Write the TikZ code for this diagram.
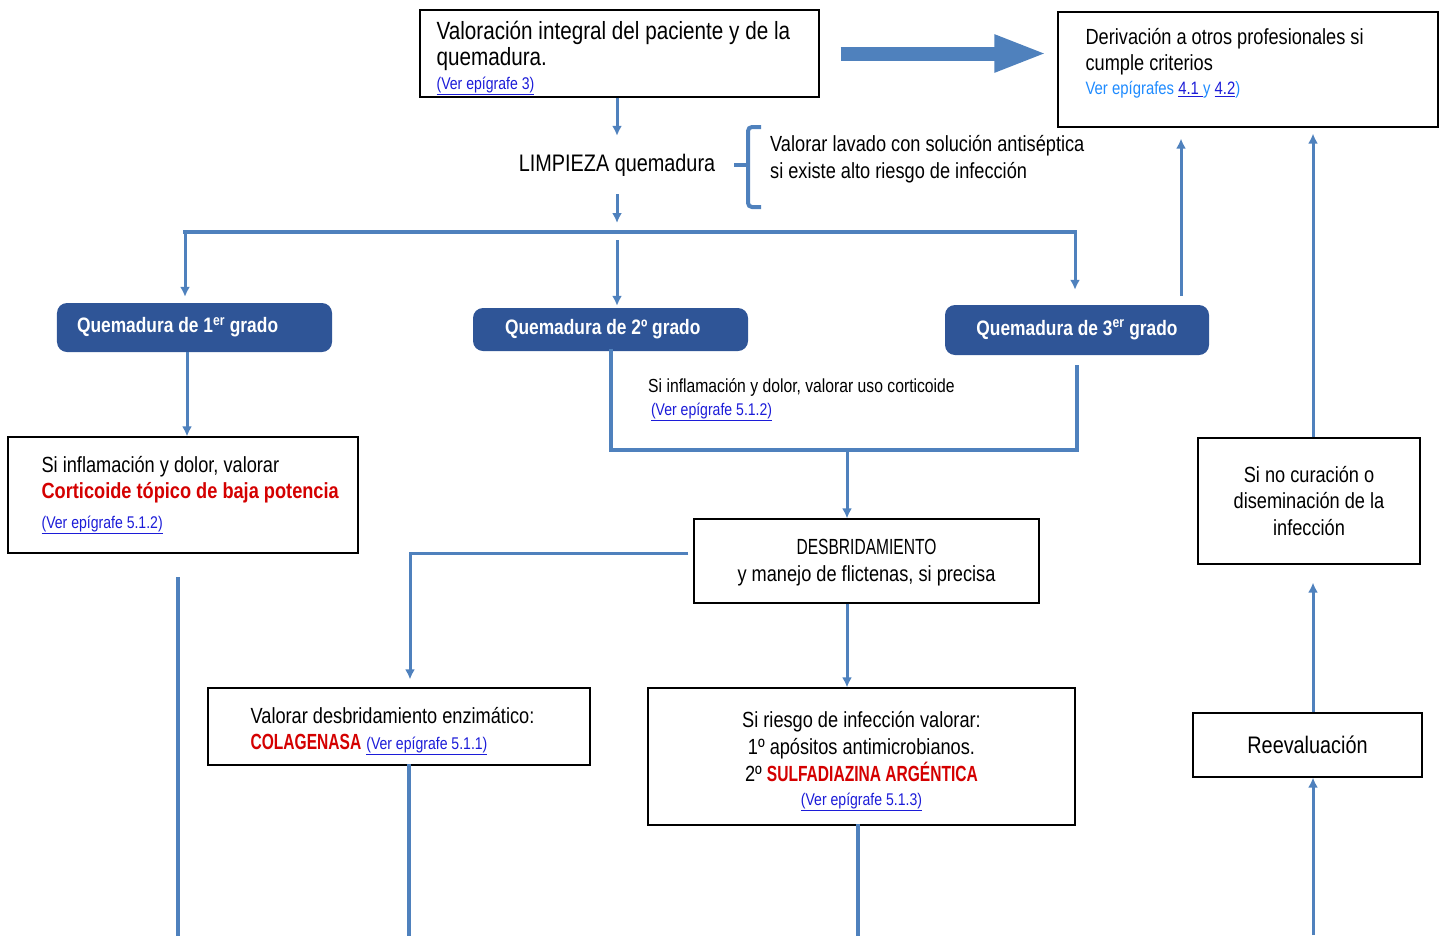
\documentclass[tikz,border=0pt]{standalone}
\usepackage{fontspec}
\setmainfont{Liberation Sans}[FakeStretch=0.83]
\newfontfamily\angosta{Liberation Sans}[FakeStretch=0.71]
\usetikzlibrary{positioning,calc,arrows.meta}

\definecolor{azulflecha}{HTML}{4F81BD}
\definecolor{azulgrado}{HTML}{2F5597}
\definecolor{rojo}{HTML}{D40000}
\definecolor{azulenlace}{HTML}{1C1CD8}
\definecolor{azulclaro}{HTML}{1F8BFF}

\newcommand{\tam}[2]{\fontsize{#1}{#2}\selectfont}
\newcommand{\epigrafe}[1]{\textcolor{azulenlace}{\underline{#1}}}
\newcommand{\resalta}[1]{\textcolor{rojo}{\bfseries #1}}

\tikzset{caja/.style={draw=black, line width=1.2bp, rectangle, inner sep=0pt}}
\tikzset{texto/.style={inner sep=0pt, align=left}}
\tikzset{grado/.style={rectangle, rounded corners=10bp, fill=azulgrado, text=white, inner sep=0pt, font=\bfseries\tam{21}{25}}}
\tikzset{flujo/.style={draw=azulflecha, line width=3bp, -{Latex[length=10bp,width=10bp]}}}
\tikzset{barra/.style={draw=azulflecha, line width=4bp, line cap=rect}}
\tikzset{gruesa/.style={draw=azulflecha, line width=14bp, -{Triangle[length=53bp,width=34bp]}}}

\begin{document}
\begin{tikzpicture}[x=1bp,y=-1bp]
  \useasboundingbox (0,0) rectangle (1445,935);

  % inicio
  \node[caja, minimum width=399bp, minimum height=87bp] (valoracion) at (619.5,53.5) {};
  \node[texto, font=\tam{25}{26}, below right=12bp and 17bp of valoracion.north west] (txtvaloracion)
    {Valoración integral del paciente y de la\\quemadura.\\[-2bp]{\tam{17}{20}\epigrafe{(Ver epígrafe 3)}}};
  \node[caja, minimum width=380bp, minimum height=115bp] (derivacion) at (1248,69.5) {};
  \node[texto, font=\tam{22}{26}, below right=17bp and 28bp of derivacion.north west] (txtderivacion)
    {Derivación a otros profesionales si\\cumple criterios\\[-2bp]{\tam{18}{20}\color{azulclaro}Ver epígrafes \epigrafe{4.1 }y \epigrafe{4.2})}};
  \draw[gruesa] ($(valoracion.east)+(21,0)$) -- ($(derivacion.west |- valoracion.east)+(-10,0)$);

  % limpieza
  \node[font=\tam{24}{28}, minimum height=58bp, inner sep=0pt] (limpieza) at (617,165) {LIMPIEZA quemadura};
  \draw[flujo] (valoracion.south -| limpieza) -- (limpieza.north);
  \node[texto, font=\tam{22}{27}, anchor=west] (lavado) at (770,159)
    {Valorar lavado con solución antiséptica\\si existe alto riesgo de infección};
  \draw[azulflecha, line width=4bp, rounded corners=4bp]
    ($(lavado.west)+(-9,-32)$) -| ($(lavado.west)+(-22,48)$) -- ++(13,0);
  \draw[azulflecha, line width=4bp] ($(lavado.west)+(-22,6)$) -- ++(-14,0);

  % reparto por grados
  \coordinate (reparto) at (617,232);
  \coordinate (ramaI) at (185,232);
  \coordinate (ramaD) at (1075,232);
  \draw[flujo, shorten >=9bp] (limpieza.south) -- (reparto);
  \draw[barra] (ramaI) -- (ramaD);

  \node[grado, minimum width=275bp, minimum height=49bp, text width=235bp, align=flush left] (grado1) at (194.5,327.5) {Quemadura de 1\textsuperscript{er} grado};
  \node[grado, minimum width=275bp, minimum height=43bp, text width=211bp, align=flush left] (grado2) at (610.5,329.5) {Quemadura de 2º grado};
  \node[grado, minimum width=264bp, minimum height=50bp, align=center] (grado3) at (1077,330) {Quemadura de 3\textsuperscript{er} grado};
  \draw[flujo, shorten >=6bp] (ramaI) -- (ramaI |- grado1.north);
  \draw[flujo, shorten <=8bp, shorten >=2bp] (reparto) -- (reparto |- grado2.north);
  \draw[flujo, shorten >=15bp] (ramaD) -- (ramaD |- grado3.north);

  % primer grado
  \node[caja, minimum width=350bp, minimum height=116bp] (corticoide) at (183,495) {};
  \node[texto, font=\tam{22}{26}, below right=20bp and 34bp of corticoide.north west] (txtcorticoide)
    {Si inflamación y dolor, valorar\\\resalta{Corticoide tópico de baja potencia}\\[4bp]{\tam{17}{20}\epigrafe{(Ver epígrafe 5.1.2)}}};
  \draw[flujo] ($(corticoide.north |- grado1.south)+(4,0)$) -- ($(corticoide.north)+(4,0)$);
  \coordinate (finI) at (178,935);
  \draw[barra] ($(corticoide.south -| finI)+(0,25)$) -- (finI);

  % segundo y tercer grado
  \coordinate (union) at (847,450);
  \draw[barra] (grado2.south) |- (union) -| ($(grado3.south)+(0,12)$);
  \node[texto, font=\tam{19}{23}, anchor=north west] (usocorticoide) at (648,378)
    {Si inflamación y dolor, valorar uso corticoide\\{\tam{17}{20}\,\epigrafe{(Ver epígrafe 5.1.2)}}};
  \node[caja, minimum width=345bp, minimum height=84bp] (desbrid) at (866.5,561) {};
  \node[texto, align=center, font=\tam{22}{27}] (txtdesbrid) at ($(desbrid.center)+(0,2)$)
    {{\angosta DESBRIDAMIENTO}\\y manejo de flictenas, si precisa};
  \draw[flujo] (union) -- (union |- desbrid.north);

  \node[caja, minimum width=382bp, minimum height=77bp] (colagenasa) at (399,726.5) {};
  \node[texto, font=\tam{22}{26}, below right=20bp and 43bp of colagenasa.north west] (txtcolagenasa)
    {Valorar desbridamiento enzimático:\\\resalta{\angosta COLAGENASA} {\tam{17}{20}\epigrafe{(Ver epígrafe 5.1.1)}}};
  \draw[flujo, shorten >=8bp] ($(desbrid.west)+(-5,-8)$) -| ($(colagenasa.north)+(11,0)$);
  \coordinate (finC) at (409,935);
  \draw[barra] (colagenasa.south -| finC) -- (finC);

  \node[caja, minimum width=427bp, minimum height=137bp] (riesgo) at (861.5,756.5) {};
  \node[texto, align=center, font=\tam{22}{27}] (txtriesgo) at ($(riesgo.center)+(0,5)$)
    {Si riesgo de infección valorar:\\1º apósitos antimicrobianos.\\2º \resalta{\angosta SULFADIAZINA ARGÉNTICA}\\[-3bp]{\tam{17}{20}\epigrafe{(Ver epígrafe 5.1.3)}}};
  \draw[flujo] (desbrid.south -| union) -- (riesgo.north -| union);
  \coordinate (finR) at (858,935);
  \draw[barra] (riesgo.south -| finR) -- (finR);

  % reevaluacion
  \node[caja, minimum width=229bp, minimum height=64bp, font=\tam{24}{28}] (reeval) at (1307.5,745) {Reevaluación};
  \node[caja, minimum width=222bp, minimum height=126bp, align=center, font=\tam{22}{27}] (nocura) at (1309,501)
    {Si no curación o\\diseminación de la\\infección};
  \coordinate (finD) at (1313,935);
  \coordinate (subida) at (1181,296);
  \draw[flujo] (finD) -- (reeval.south -| finD);
  \draw[flujo, shorten >=18bp] (reeval.north -| finD) -- (nocura.south -| finD);
  \draw[flujo, shorten >=6bp] (nocura.north -| finD) -- (derivacion.south -| finD);
  \draw[flujo, shorten >=11bp] (subida) -- (derivacion.south -| subida);
\end{tikzpicture}
\end{document}
